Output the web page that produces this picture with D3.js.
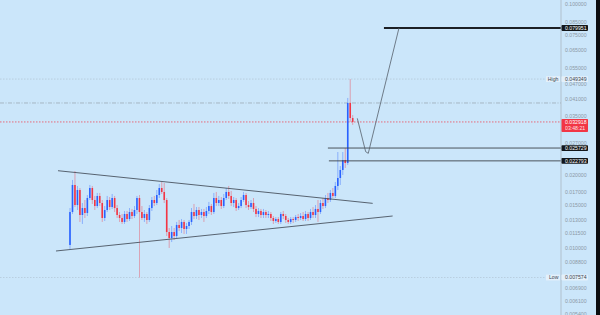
<!DOCTYPE html>
<html lang="en">
<head>
<meta charset="UTF-8">
<title>Triangle breakout chart</title>
<script src="https://d3js.org/d3.v7.min.js"></script>
<style>
    body { margin: 0; background: #cbe6fa; }
    #chart { width: 600px; height: 315px; overflow: hidden; }
    .axis text { font-family: "Liberation Sans", Arial, sans-serif; font-size: 5.2px; fill: #8c99a6; }
    .lbl { font-family: "Liberation Sans", Arial, sans-serif; font-size: 5.2px; }
</style>
</head>
<body>
<div id="chart"></div>
<script>
    const width = 600;
    const height = 315;
    const axisX = 561;

    // price series, one candle per step (open = previous close)
    const firstOpen = 0.01030;
    const close = [
        0.01406, 0.01815, 0.01502, 0.01731, 0.01367, 0.01460, 0.01393, 0.01605, 0.01764, 0.01575,
        0.01488, 0.01636, 0.01531, 0.01329, 0.01433, 0.01575, 0.01474, 0.01605, 0.01460, 0.01367,
        0.01329, 0.01280, 0.01380, 0.01316, 0.01406, 0.01354, 0.01433, 0.01605, 0.01406, 0.01329,
        0.01380, 0.01304, 0.01460, 0.01575, 0.01531, 0.01651, 0.01764, 0.01699, 0.01575, 0.01164,
        0.01100, 0.01164, 0.01121, 0.01244, 0.01209, 0.01280, 0.01198, 0.01232, 0.01280, 0.01406,
        0.01354, 0.01433, 0.01367, 0.01406, 0.01354, 0.01420, 0.01488, 0.01406, 0.01605, 0.01531,
        0.01575, 0.01488, 0.01605, 0.01699, 0.01636, 0.01531, 0.01575, 0.01460, 0.01488, 0.01575,
        0.01651, 0.01502, 0.01474, 0.01531, 0.01447, 0.01380, 0.01420, 0.01367, 0.01406, 0.01367,
        0.01380, 0.01329, 0.01292, 0.01316, 0.01280, 0.01380, 0.01354, 0.01304, 0.01280, 0.01316,
        0.01304, 0.01341, 0.01329, 0.01354, 0.01316, 0.01380, 0.01329, 0.01406, 0.01367, 0.01447,
        0.01406, 0.01531, 0.01488, 0.01605, 0.01575, 0.01683, 0.01636, 0.01798, 0.01939, 0.02091,
        0.02298, 0.02234, 0.03938, 0.03416, 0.03292
    ];
    const high = [
        0.01460, 0.01903, 0.02071, 0.01798, 0.01764, 0.01531, 0.01575, 0.01651, 0.01815, 0.01798,
        0.01636, 0.01683, 0.01683, 0.01575, 0.01488, 0.01636, 0.01620, 0.01667, 0.01636, 0.01502,
        0.01406, 0.01380, 0.01420, 0.01420, 0.01460, 0.01447, 0.01488, 0.01636, 0.01651, 0.01488,
        0.01433, 0.01406, 0.01502, 0.01620, 0.01636, 0.01731, 0.01832, 0.01867, 0.01849, 0.01605,
        0.01209, 0.01232, 0.01209, 0.01280, 0.01304, 0.01316, 0.01304, 0.01268, 0.01304, 0.01460,
        0.01517, 0.01474, 0.01474, 0.01447, 0.01447, 0.01474, 0.01546, 0.01517, 0.01683, 0.01699,
        0.01636, 0.01620, 0.01667, 0.01764, 0.01798, 0.01715, 0.01620, 0.01605, 0.01531, 0.01620,
        0.01699, 0.01683, 0.01560, 0.01575, 0.01605, 0.01488, 0.01460, 0.01447, 0.01447, 0.01433,
        0.01420, 0.01406, 0.01354, 0.01341, 0.01341, 0.01406, 0.01420, 0.01380, 0.01329, 0.01341,
        0.01341, 0.01367, 0.01380, 0.01393, 0.01406, 0.01420, 0.01406, 0.01447, 0.01474, 0.01502,
        0.01575, 0.01575, 0.01605, 0.01651, 0.01683, 0.01731, 0.01764, 0.01867, 0.02478, 0.02171,
        0.02478, 0.02574, 0.04128, 0.049349, 0.03514
    ];
    const low = [
        0.00992, 0.01380, 0.01474, 0.01433, 0.01280, 0.01256, 0.01329, 0.01354, 0.01575, 0.01517,
        0.01433, 0.01460, 0.01488, 0.01280, 0.01292, 0.01406, 0.01433, 0.01447, 0.01406, 0.01329,
        0.01280, 0.01256, 0.01256, 0.01280, 0.01292, 0.01316, 0.01329, 0.01380, 0.007574, 0.01304,
        0.01280, 0.01256, 0.01280, 0.01420, 0.01488, 0.01502, 0.01605, 0.01667, 0.01531, 0.01121,
        0.01001, 0.01059, 0.010795, 0.01100, 0.01175, 0.01153, 0.01143, 0.01143, 0.01198, 0.01244,
        0.01316, 0.01316, 0.01304, 0.01329, 0.01280, 0.01329, 0.01380, 0.01367, 0.01380, 0.01488,
        0.01488, 0.01447, 0.01460, 0.01575, 0.01590, 0.01488, 0.01474, 0.01420, 0.01433, 0.01460,
        0.01546, 0.01460, 0.01433, 0.01447, 0.01406, 0.01341, 0.01341, 0.01329, 0.01329, 0.01329,
        0.01329, 0.01292, 0.01256, 0.01268, 0.01256, 0.01256, 0.01316, 0.01268, 0.01256, 0.01256,
        0.01268, 0.01280, 0.01292, 0.01304, 0.01292, 0.01292, 0.01292, 0.01304, 0.01329, 0.01329,
        0.01280, 0.01380, 0.01447, 0.01460, 0.01531, 0.01546, 0.01605, 0.01605, 0.01731, 0.01815,
        0.01995, 0.02131, 0.02192, 0.03292, 0.03200
    ];

    // price axis labels
    const tickValues = [0.1, 0.085, 0.075, 0.065, 0.055, 0.047, 0.041, 0.035, 0.027,
        0.02, 0.017, 0.015, 0.013, 0.0115, 0.01, 0.0088, 0.0069, 0.0061, 0.0054];

    // drawings: [bar index, price]
    const upperTrend = [[-4.84, 0.02077], [122.06, 0.01526]];
    const lowerTrend = [[-5.65, 0.00973], [130.1, 0.01354]];
    const projection = [[115.85, 0.03406], [119.23, 0.02486], [120.28, 0.02447], [132.66, 0.079951]];
    const levels = [
        { price: 0.079951, from: 126.6, label: "0.079951" },
        { price: 0.025729, from: 104.0, label: "0.025729" },
        { price: 0.022793, from: 104.4, label: "0.022793" }
    ];
    const lastPrice = 0.032918;
    const countdown = "03:48:21";
    const highPrice = 0.049349;
    const lowPrice = 0.007574;
    const prevLevel = 0.03938;

    const candles = close.map((c, i) => ({
        i: i,
        o: i === 0 ? firstOpen : close[i - 1],
        h: high[i],
        l: low[i],
        c: c
    }));

    const svg = d3.select("#chart")
        .append("svg")
        .attr("width", width)
        .attr("height", height);

    svg.append("rect").attr("width", width).attr("height", height).attr("fill", "#cbe6fa");

    const x = d3.scaleLinear().domain([0, close.length - 1]).range([70, 352.7]);
    const y = d3.scaleLog().domain([0.1, 0.0054]).range([4.3, 4.3 + 243.8 * Math.log10(0.1 / 0.0054)]);

    // full-width reference lines
    svg.append("line")
        .attr("x1", 0).attr("x2", axisX)
        .attr("y1", y(highPrice)).attr("y2", y(highPrice))
        .attr("stroke", "#9aa6b2").attr("stroke-width", 0.6).attr("stroke-dasharray", "1.5,1.5").attr("opacity", 0.6);
    svg.append("line")
        .attr("x1", 0).attr("x2", axisX)
        .attr("y1", y(lowPrice)).attr("y2", y(lowPrice))
        .attr("stroke", "#9aa6b2").attr("stroke-width", 0.6).attr("stroke-dasharray", "1.5,1.5").attr("opacity", 0.6);
    svg.append("line")
        .attr("x1", 0).attr("x2", axisX)
        .attr("y1", y(prevLevel)).attr("y2", y(prevLevel))
        .attr("stroke", "#8a939c").attr("stroke-width", 0.7).attr("stroke-dasharray", "4,1.5,1,1.5").attr("opacity", 0.8);
    svg.append("line")
        .attr("x1", 0).attr("x2", axisX)
        .attr("y1", y(lastPrice)).attr("y2", y(lastPrice))
        .attr("stroke", "#f23645").attr("stroke-width", 0.7).attr("stroke-dasharray", "1.5,1.5");

    // candles
    const g = svg.append("g");
    g.selectAll(".wick")
        .data(candles)
        .enter()
        .append("line")
        .attr("x1", d => x(d.i)).attr("x2", d => x(d.i))
        .attr("y1", d => y(d.h)).attr("y2", d => y(d.l))
        .attr("stroke", d => d.c >= d.o ? "#2962ff" : "#f23645")
        .attr("stroke-width", 0.8)
        .attr("opacity", 0.5);
    g.selectAll(".body")
        .data(candles)
        .enter()
        .append("rect")
        .attr("x", d => x(d.i) - 0.8)
        .attr("width", 1.6)
        .attr("y", d => y(Math.max(d.o, d.c)))
        .attr("height", d => Math.max(0.8, Math.abs(y(d.o) - y(d.c))))
        .attr("fill", d => d.c >= d.o ? "#2962ff" : "#f23645");

    // triangle
    const line = d3.line().x(d => x(d[0])).y(d => y(d[1]));
    [upperTrend, lowerTrend].forEach(t => {
        svg.append("path").attr("d", line(t))
            .attr("fill", "none").attr("stroke", "#4a5460").attr("stroke-width", 0.9);
    });

    // levels
    levels.forEach(l => {
        svg.append("line")
            .attr("x1", x(l.from)).attr("x2", axisX)
            .attr("y1", y(l.price)).attr("y2", y(l.price))
            .attr("stroke", l.price > 0.05 ? "#1b1f24" : "#3c434b")
            .attr("stroke-width", l.price > 0.05 ? 2 : 0.9);
    });

    // projected path
    svg.append("path").attr("d", line(projection))
        .attr("fill", "none").attr("stroke", "#56606b").attr("stroke-width", 0.8);

    // price axis
    svg.append("line")
        .attr("x1", axisX).attr("x2", axisX).attr("y1", 0).attr("y2", height)
        .attr("stroke", "#a9b6c2").attr("stroke-width", 0.8);

    const axis = svg.append("g")
        .attr("class", "axis")
        .attr("transform", `translate(${axisX},0)`)
        .call(d3.axisRight(y).tickValues(tickValues).tickFormat(d3.format(".6f")).tickSize(0).tickPadding(4));
    axis.select(".domain").remove();

    // labels on axis
    function tag(price, text, bg, fg, text2) {
        const yy = y(price);
        const h = text2 ? 13 : 5.8;
        svg.append("rect")
            .attr("x", axisX + 0.5).attr("y", yy - 2.9)
            .attr("width", 26.5).attr("height", h)
            .attr("fill", bg).attr("rx", 0.8);
        svg.append("text").attr("class", "lbl")
            .attr("x", axisX + 4).attr("y", yy).attr("dy", "0.35em")
            .attr("fill", fg).text(text);
        if (text2) {
            svg.append("text").attr("class", "lbl")
                .attr("x", axisX + 4).attr("y", yy + 6.2).attr("dy", "0.35em")
                .attr("fill", fg).attr("opacity", 0.85).text(text2);
        }
    }
    levels.forEach(l => tag(l.price, l.label, "#131619", "#ffffff"));
    tag(lastPrice, d3.format(".6f")(lastPrice), "#f23645", "#ffffff", countdown);
    tag(highPrice, d3.format(".6f")(highPrice), "#e4f0fa", "#3a4450");
    tag(lowPrice, d3.format(".6f")(lowPrice), "#e4f0fa", "#3a4450");

    [["High", highPrice], ["Low", lowPrice]].forEach(([t, p]) => {
        svg.append("rect")
            .attr("x", 546).attr("y", y(p) - 2.9).attr("width", 14).attr("height", 5.8)
            .attr("fill", "#e4f0fa");
        svg.append("text").attr("class", "lbl")
            .attr("x", 558.5).attr("y", y(p)).attr("dy", "0.35em")
            .attr("text-anchor", "end").attr("fill", "#3a4450").text(t);
    });

    // right edge
    svg.append("rect").attr("x", 596).attr("y", 0).attr("width", 4).attr("height", height).attr("fill", "#0b0d10");
</script>
</body>
</html>
